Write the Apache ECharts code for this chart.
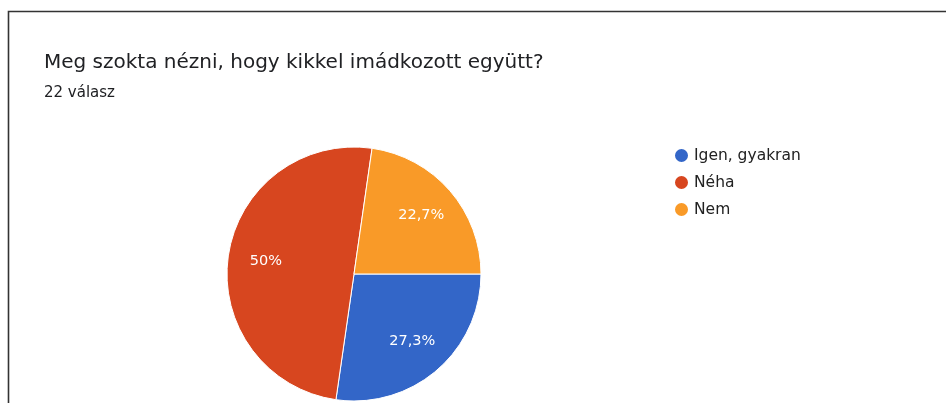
<!DOCTYPE html>
<html>
<head>
<meta charset="utf-8">
<script src="https://cdn.jsdelivr.net/npm/echarts@6/dist/echarts.min.js"></script>
<style>
  html, body { margin: 0; padding: 0; background: #fff; }
  #main { width: 946px; height: 403px; }
</style>
</head>
<body>
<div id="main"></div>
<script>
const titleText = "Meg szokta nézni, hogy kikkel imádkozott együtt?";
const subText = "22 válasz";
const categories = ["Igen, gyakran", "Néha", "Nem"];
const counts = [6, 11, 5];
const colors = ["#3366c8", "#d7461f", "#f99a28"];

const total = counts.reduce((a, b) => a + b, 0);

// százalék magyar formátumban (tizedesvessző)
function pct(v) {
  let s = (v / total * 100).toFixed(1);
  if (s.endsWith(".0")) s = s.slice(0, -2);
  return s.replace(".", ",") + "%";
}

const pieData = categories.map((name, i) => ({
  name: name,
  value: counts[i],
  itemStyle: { color: colors[i] }
}));

let myChart = echarts.init(document.getElementById("main"));

let option = {
  animation: false,
  textStyle: { fontFamily: "DejaVu Sans, sans-serif" },
  graphic: [
    {
      type: "polyline",
      shape: { points: [[8.5, 403], [8.5, 11.5], [946, 11.5]] },
      style: { stroke: "#333", lineWidth: 1.6, fill: null },
      silent: true
    }
  ],
  title: [
    {
      text: titleText,
      left: 44,
      top: 53,
      padding: 0,
      textStyle: { fontSize: 20, fontWeight: "normal", color: "#202124" }
    },
    {
      text: subText,
      left: 44,
      top: 86,
      padding: 0,
      textStyle: { fontSize: 15, fontWeight: "normal", color: "#202124" }
    }
  ],
  legend: {
    orient: "vertical",
    left: 668,
    top: 142,
    itemWidth: 15,
    itemHeight: 15,
    itemGap: 10,
    selectedMode: false,
    textStyle: { fontSize: 15.5, color: "#222" },
    data: categories.map((name, i) => ({
      name: name,
      icon: "circle",
      itemStyle: { color: colors[i] }
    }))
  },
  series: [
    {
      name: "valaszok",
      type: "pie",
      center: [354, 274],
      radius: 127,
      startAngle: 0,
      clockwise: true,
      silent: true,
      label: { show: false },
      labelLine: { show: false },
      itemStyle: { borderColor: "#fff", borderWidth: 1 },
      data: pieData
    },
    {
      // csak a feliratokhoz, átlátszó szeletekkel
      name: "feliratok",
      type: "pie",
      center: [354, 274],
      radius: [0, 172],
      startAngle: 0,
      clockwise: true,
      silent: true,
      itemStyle: { color: "rgba(0,0,0,0)" },
      label: {
        show: true,
        position: "inside",
        color: "#fff",
        fontSize: 14.5,
        formatter: (p) => pct(p.value)
      },
      labelLine: { show: false },
      data: categories.map((name, i) => ({ name: name, value: counts[i] }))
    }
  ]
};

myChart.setOption(option);
</script>
</body>
</html>
